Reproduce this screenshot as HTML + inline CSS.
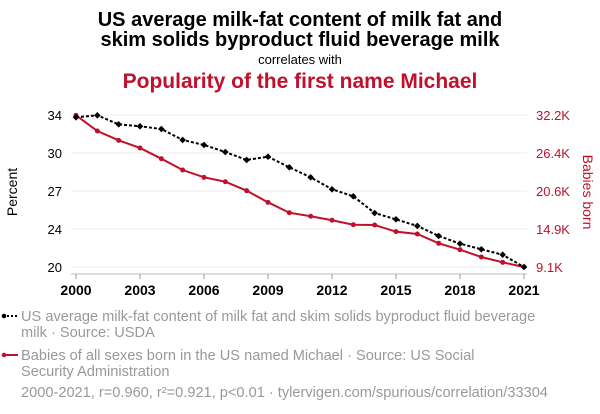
<!DOCTYPE html>
<html><head><meta charset="utf-8"><style>
html,body{margin:0;padding:0;background:#fff;}
svg{display:block;font-family:"Liberation Sans",sans-serif;}
</style></head><body>
<svg id="chart" width="600" height="414" viewBox="0 0 600 414">
<text x="300" y="26" text-anchor="middle" font-size="20" font-weight="bold" fill="#000">US average milk-fat content of milk fat and</text>
<text x="300" y="46" text-anchor="middle" font-size="20" font-weight="bold" fill="#000">skim solids byproduct fluid beverage milk</text>
<text x="300" y="64" text-anchor="middle" font-size="13" fill="#000">correlates with</text>
<text x="300" y="88" text-anchor="middle" font-size="21" font-weight="bold" fill="#c0102c">Popularity of the first name Michael</text>
<text transform="translate(17,192) rotate(-90)" text-anchor="middle" font-size="14" fill="#000">Percent</text>
<text transform="translate(583,192) rotate(90)" text-anchor="middle" font-size="14" fill="#c0102c">Babies born</text>
<g id="grid"></g><g id="axes"></g><g id="series"></g>
<g>
<line x1="3" y1="316" x2="18" y2="316" stroke="#000" stroke-width="2" stroke-dasharray="2,2"/>
<circle cx="4" cy="316" r="2.3" fill="#000"/>
<text x="21" y="321" font-size="14.6" fill="#999">US average milk-fat content of milk fat and skim solids byproduct fluid beverage</text>
<text x="21" y="337" font-size="14.6" fill="#999">milk · Source: USDA</text>
</g>
<g>
<line x1="3" y1="355" x2="18" y2="355" stroke="#c0102c" stroke-width="2"/>
<circle cx="4" cy="355" r="2.3" fill="#c0102c"/>
<text x="21" y="360" font-size="14.6" fill="#999">Babies of all sexes born in the US named Michael · Source: US Social</text>
<text x="21" y="376" font-size="14.6" fill="#999">Security Administration</text>
</g>
<text x="21" y="397" font-size="14.6" fill="#999">2000-2021, r=0.960, r²=0.921, p&lt;0.01 · tylervigen.com/spurious/correlation/33304</text>
</svg>
<script>
const years=[2000,2001,2002,2003,2004,2005,2006,2007,2008,2009,2010,2011,2012,2013,2014,2015,2016,2017,2018,2019,2020,2021];
const milkFat=[33.79,33.97,33.14,32.96,32.71,31.70,31.24,30.59,29.86,30.16,29.18,28.26,27.16,26.51,24.97,24.39,23.78,22.86,22.15,21.63,21.13,20.0];
const michael=[32150,29770,28350,27190,25560,23840,22730,22060,20700,18930,17350,16810,16200,15530,15480,14470,14120,12700,11730,10620,9810,9100];
const leftTicks=["20","24","27","30","34"];
const rightTicks=["9.1K","14.9K","20.6K","26.4K","32.2K"];
const xTicks=[2000,2003,2006,2009,2012,2015,2018,2021];
const NS="http://www.w3.org/2000/svg";
const X0=76,X1=524,YB=267,YT=115;
const lMin=20,lMax=34,rMin=9100,rMax=32200;
function xs(v){return X0+(v-years[0])/(years[years.length-1]-years[0])*(X1-X0);}
function yl(v){return YB-(v-lMin)/(lMax-lMin)*(YB-YT);}
function yr(v){return YB-(v-rMin)/(rMax-rMin)*(YB-YT);}
function mk(t,a,p){const e=document.createElementNS(NS,t);for(const k in a)e.setAttribute(k,a[k]);p.appendChild(e);return e;}
const grid=document.getElementById('grid'),axes=document.getElementById('axes'),ser=document.getElementById('series');
leftTicks.forEach((t,i)=>{
  const y=YB-i*(YB-YT)/(leftTicks.length-1);
  const g=mk('line',{x1:71,x2:527,y1:y,y2:y,stroke:'#eee','stroke-width':1},grid);
  
  
  const a=mk('text',{x:62,y:y+5,'text-anchor':'end','font-size':13,fill:'#000'},axes);a.textContent=t;
  
  
  const b=mk('text',{x:536,y:y+5,'font-size':13,fill:'#c0102c'},axes);b.textContent=rightTicks[i];
  
  
});
const ax=mk('line',{x1:71,x2:527,y1:274,y2:274,stroke:'#bbb','stroke-width':1},axes);


xTicks.forEach(v=>{
  const x=xs(v);
  mk('line',{x1:x,x2:x,y1:274,y2:279,stroke:'#999'},axes);
  const t=mk('text',{x:x,y:295,'text-anchor':'middle','font-size':14,'font-weight':'bold',fill:'#000'},axes);t.textContent=v;
  
  
});
const rp=mk('polyline',{points:years.map((y,i)=>xs(y)+','+yr(michael[i])).join(' '),fill:'none',stroke:'#c0102c','stroke-width':2},ser);


years.forEach((y,i)=>{const c=mk('circle',{cx:xs(y),cy:yr(michael[i]),r:2.5,fill:'#c0102c'},ser);
  
  });
const bp=mk('polyline',{points:years.map((y,i)=>xs(y)+','+yl(milkFat[i])).join(' '),fill:'none',stroke:'#000','stroke-width':2,'stroke-dasharray':'3,2'},ser);


years.forEach((y,i)=>{const x=xs(y),yy=yl(milkFat[i]);
  const d=mk('polygon',{points:`${x},${yy-3.3} ${x+3.3},${yy} ${x},${yy+3.3} ${x-3.3},${yy}`,fill:'#000'},ser);
  
  });
</script>
</body></html>
